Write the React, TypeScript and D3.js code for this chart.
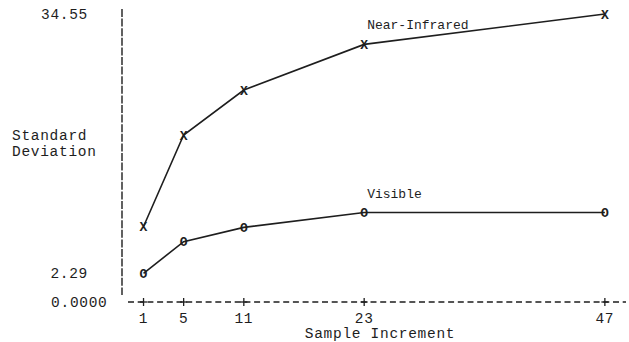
import * as d3 from 'd3';

// Sample increments (x) and standard deviations
const increments = [1, 5, 11, 23, 47];
const nearInfrared = [8.11, 19.49, 25.09, 30.77, 34.55];
const visible = [2.29, 6.22, 8.0, 9.86, 9.86];
const yTickValues = [34.55, 2.29];
const yTickLabels = ['34.55', '2.29'];
const baseLabel = '0.0000';
const seriesNames = ['Near-Infrared', 'Visible'];

const W = 629;
const H = 342;
const FONT = '"Liberation Mono", "DejaVu Sans Mono", monospace';
const INK = '#1e1e1e';
const AXIS_FS = 14.5;
const AXIS_LS = 0.7;

export default function App() {
  const x = d3.scaleLinear().domain([0, 48]).range([133.5, 614.9]);
  const y = d3.scaleLinear().domain([2.29, 34.55]).range([273.3, 14]);
  const axisY = 302;

  const line = d3
    .line<number>()
    .x((_, i) => x(increments[i]))
    .y((d) => y(d));

  const series = [
    { name: seriesNames[0], values: nearInfrared, mark: 'X' },
    { name: seriesNames[1], values: visible, mark: 'O' },
  ];

  const axisText = { fontSize: AXIS_FS, letterSpacing: AXIS_LS, fill: INK };

  return (
    <svg
      width={W}
      height={H}
      style={{ position: 'absolute', left: 0, top: 0, background: '#fff' }}
      fontFamily={FONT}
    >
      <rect width={W} height={H} fill="#fff" />

      {/* vertical axis */}
      <line
        x1={122}
        x2={122}
        y1={9}
        y2={295}
        stroke={INK}
        strokeWidth={1.4}
        strokeDasharray="8,1.6"
      />
      {yTickValues.map((v, i) => (
        <text key={v} x={88} y={y(v)} dy="0.35em" textAnchor="end" {...axisText}>
          {yTickLabels[i]}
        </text>
      ))}
      <text x={107.5} y={axisY} dy="0.35em" textAnchor="end" {...axisText}>
        {baseLabel}
      </text>
      <text x={12} y={134.5} dy="0.35em" {...axisText}>
        Standard
      </text>
      <text x={12} y={151} dy="0.35em" {...axisText}>
        Deviation
      </text>

      {/* horizontal axis */}
      <line
        x1={128}
        x2={626}
        y1={axisY}
        y2={axisY}
        stroke={INK}
        strokeWidth={1.3}
        strokeDasharray="6,3.7"
      />
      {increments.map((v) => (
        <g key={v}>
          <line x1={x(v) - 3.5} x2={x(v) + 3.5} y1={axisY} y2={axisY} stroke={INK} strokeWidth={1.3} />
          <line x1={x(v)} x2={x(v)} y1={axisY - 4} y2={axisY + 4} stroke={INK} strokeWidth={1.3} />
          <text x={x(v)} y={318} dy="0.35em" textAnchor="middle" {...axisText}>
            {v}
          </text>
        </g>
      ))}
      <text x={380} y={332.5} dy="0.35em" textAnchor="middle" {...axisText}>
        Sample Increment
      </text>

      {/* series */}
      {series.map((s) => (
        <g key={s.name}>
          <path d={line(s.values) || ''} fill="none" stroke={INK} strokeWidth={1.6} />
          {s.values.map((v, i) => (
            <text
              key={i}
              x={x(increments[i])}
              y={y(v)}
              dy="0.35em"
              textAnchor="middle"
              fontSize={13}
              fontWeight="bold"
              fill={INK}
            >
              {s.mark}
            </text>
          ))}
          <text
            x={x(increments[3]) + 3}
            y={y(s.values[3]) - 19.5}
            dy="0.35em"
            fontSize={13}
            fill={INK}
          >
            {s.name}
          </text>
        </g>
      ))}
    </svg>
  );
}
